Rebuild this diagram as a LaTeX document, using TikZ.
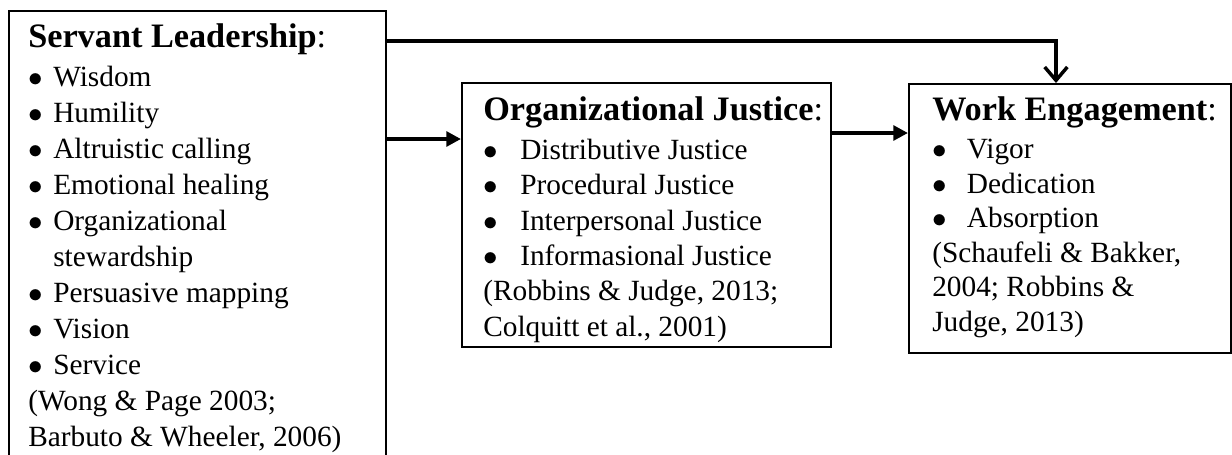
\documentclass[tikz,border=0pt]{standalone}
\usepackage{fontspec}
\setmainfont{Liberation Serif}
\usetikzlibrary{arrows.meta}

\tikzset{
  box/.style={draw, line width=1.5pt, inner sep=0pt, anchor=north west},
  txt/.style={anchor=north west, inner sep=0pt, align=left},
  flow/.style={line width=3pt, -{Triangle[length=11pt,width=11pt]}},
  flowdown/.style={line width=3pt, -{Straight Barb[length=10pt,width=17pt,line width=2.6pt]}}
}
\newcommand{\hd}[1]{{\fontsize{25.7}{30}\selectfont\textbf{#1}:}}
\newcommand{\bi}[2]{\makebox[#1][l]{\scalebox{1.05}{$\bullet$}}#2}

\begin{document}
\begin{tikzpicture}[x=0.75pt,y=0.75pt,yscale=-1,xscale=1]
\useasboundingbox (0,0) rectangle (1232,454);

%Boxes
\node[box, minimum width=283pt, minimum height=340pt] (sl) at (8,10) {};
\node[box, minimum width=277pt, minimum height=198pt] (oj) at (461,82) {};
\node[box, minimum width=241.5pt, minimum height=201.75pt] (we) at (908,83) {};

% Text Node
\node[txt, font=\fontsize{22}{27}\selectfont] (sltxt) at (28,23) {\hd{Servant Leadership}\\[2.5pt]
  \bi{18.75pt}{Wisdom}\\
  \bi{18.75pt}{Humility}\\
  \bi{18.75pt}{Altruistic calling}\\
  \bi{18.75pt}{Emotional healing}\\
  \bi{18.75pt}{Organizational}\\
  \hspace*{18.75pt}stewardship\\
  \bi{18.75pt}{Persuasive mapping}\\
  \bi{18.75pt}{Vision}\\
  \bi{18.75pt}{Service}\\
  (Wong \& Page 2003;\\
  Barbuto \& Wheeler, 2006)};
% Text Node
\node[txt, font=\fontsize{22}{26.5}\selectfont] (ojtxt) at (483,96) {\hd{Organizational Justice}\\[3pt]
  \bi{27.75pt}{Distributive Justice}\\
  \bi{27.75pt}{Procedural Justice}\\
  \bi{27.75pt}{Interpersonal Justice}\\
  \bi{27.75pt}{Informasional Justice}\\
  (Robbins \& Judge, 2013;\\
  Colquitt et al., 2001)};
% Text Node
\node[txt, font=\fontsize{22}{25.9}\selectfont] (wetxt) at (932,96) {\hd{Work Engagement}\\[3pt]
  \bi{26pt}{Vigor}\\
  \bi{26pt}{Dedication}\\
  \bi{26pt}{Absorption}\\
  (Schaufeli \& Bakker,\\
  2004; Robbins \&\\
  Judge, 2013)};

%Arrows
\coordinate (toprow) at (0,41);
\coordinate (row1) at (0,139);
\coordinate (row2) at (0,133);
\draw[flow] (sl.east |- row1) -- (oj.west |- row1);
\draw[flow] (oj.east |- row2) -- (we.west |- row2);
\draw[flowdown] (sl.east |- toprow) -| ([xshift=-10.5pt]we.north);
\end{tikzpicture}
\end{document}
